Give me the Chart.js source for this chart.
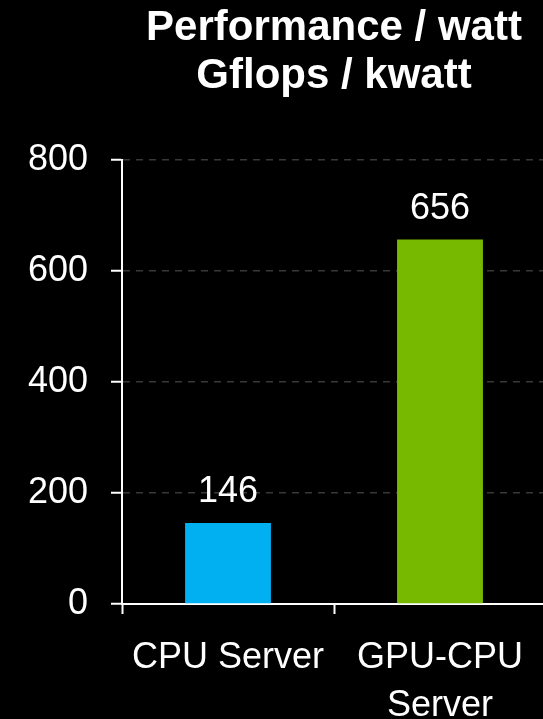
<!DOCTYPE html>
<html>
<head>
<meta charset="utf-8">
<script src="https://cdn.jsdelivr.net/npm/chart.js@4"></script>
<style>
  html, body { margin: 0; padding: 0; background: #000; overflow: hidden; }
  canvas { display: block; }
</style>
</head>
<body>
<canvas id="perfChart" width="560" height="719"></canvas>
<script>
// Chart data
const categories = [['CPU Server'], ['GPU-CPU', 'Server']];
const gflopsPerKwatt = [146, 656];
const barColors = ['#00B0F0', '#76B900'];
const titleLines = ['Performance / watt', 'Gflops / kwatt'];

const fontFamily = '"Liberation Sans", Arial, sans-serif';

// Plugin to draw the value above each bar
const valueLabels = {
    id: 'valueLabels',
    afterDatasetsDraw(chart) {
        const ctx = chart.ctx;
        const meta = chart.getDatasetMeta(0);
        ctx.save();
        ctx.fillStyle = '#fff';
        ctx.font = '36px ' + fontFamily;
        ctx.textAlign = 'center';
        ctx.textBaseline = 'alphabetic';
        meta.data.forEach((bar, i) => {
            ctx.fillText(String(gflopsPerKwatt[i]), bar.x, bar.y - 21);
        });
        ctx.restore();
    }
};

const ctx = document.getElementById('perfChart').getContext('2d');

new Chart(ctx, {
    type: 'bar',
    data: {
        labels: categories,
        datasets: [{
            data: gflopsPerKwatt,
            backgroundColor: barColors,
            borderWidth: 0,
            barPercentage: 0.405,
            categoryPercentage: 1
        }]
    },
    options: {
        responsive: false,
        animation: false,
        layout: { padding: { top: 0, right: 14, bottom: 0, left: 0 } },
        plugins: {
            legend: { display: false },
            tooltip: { enabled: false },
            title: {
                display: true,
                text: titleLines,
                color: '#fff',
                fullSize: false,
                font: { family: fontFamily, size: 42, weight: 'bold', lineHeight: 1.15 },
                padding: { top: 4, bottom: 59 }
            }
        },
        scales: {
            x: {
                grid: {
                    offset: true,
                    drawOnChartArea: false,
                    tickLength: 10,
                    tickColor: '#fff',
                    tickWidth: 2
                },
                border: { color: '#fff', width: 2 },
                ticks: {
                    color: '#fff',
                    padding: 20,
                    font: { family: fontFamily, size: 36, lineHeight: 1.33 }
                },
                afterFit(scale) { scale.height = 115; }
            },
            y: {
                min: 0,
                max: 800,
                ticks: {
                    stepSize: 200,
                    color: '#fff',
                    padding: 23,
                    font: { family: fontFamily, size: 36 }
                },
                grid: {
                    color: '#383838',
                    lineWidth: 1.5,
                    tickLength: 11,
                    tickColor: '#fff',
                    tickWidth: 2
                },
                border: { color: '#fff', width: 2, dash: [7, 6] },
                afterFit(scale) { scale.width = 122; }
            }
        }
    },
    plugins: [valueLabels]
});
</script>
</body>
</html>
